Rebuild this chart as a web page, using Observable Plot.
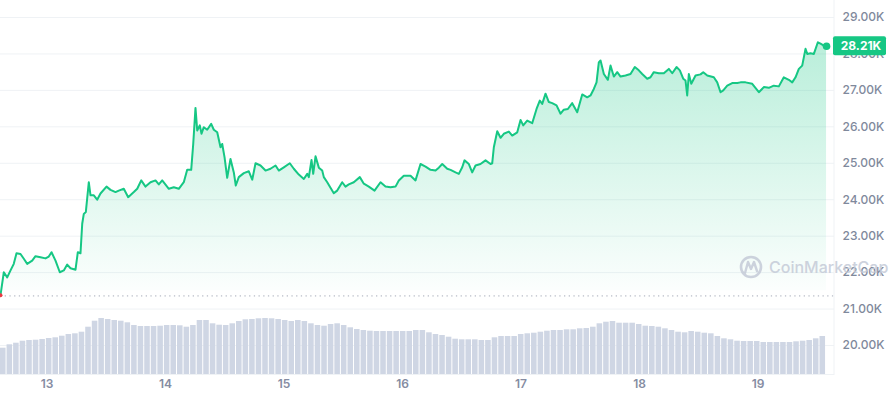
<!DOCTYPE html>
<html>
<head>
<meta charset="utf-8">
<script src="https://cdn.jsdelivr.net/npm/d3@7"></script>
<script src="https://cdn.jsdelivr.net/npm/@observablehq/plot@0.6"></script>
<style>
  html, body { margin: 0; padding: 0; background: #fff; }
  #chart { position: relative; width: 889px; height: 400px; font-family: Inter, "Noto Sans", sans-serif; }
  #chart svg { position: absolute; left: 0; top: 0; }
</style>
</head>
<body>
<div id="chart"></div>
<script>
// ---- Data (BTC price, 7 days, in thousands USD) ----
const startISO = "2023-03-12T14:35:00Z";
const hours = [0.0,0.67,1.36,2.03,2.69,3.24,4.05,4.72,5.41,6.42,7.09,8.10,9.11,9.78,10.33,11.14,12.01,12.82,13.51,14.18,15.19,15.66,16.20,16.55,16.87,17.28,17.88,18.23,18.90,19.58,20.25,21.47,22.28,23.29,23.96,24.97,25.86,27.00,27.69,28.50,29.37,30.38,31.39,32.06,32.75,34.09,35.10,36.11,37.12,37.81,38.62,39.03,39.49,39.84,40.36,40.71,41.17,41.86,42.67,43.20,43.89,44.56,44.90,45.37,45.91,46.58,47.25,47.65,48.26,49.28,50.29,50.98,51.65,52.66,53.67,54.68,55.70,56.36,57.38,58.59,59.40,60.41,61.43,62.12,62.44,62.99,63.33,63.80,64.47,65.15,65.48,66.17,66.83,67.50,68.19,69.20,69.87,70.54,71.55,72.77,73.58,74.59,75.75,76.96,77.97,78.99,80.00,80.67,81.68,83.04,84.05,85.06,86.08,87.09,88.10,88.77,89.46,90.47,91.14,92.15,92.82,93.51,93.97,94.85,95.53,96.20,97.21,98.23,99.24,99.58,99.91,100.60,101.27,101.93,102.95,103.63,104.65,105.32,105.86,106.67,107.68,108.56,109.22,109.71,110.38,111.05,111.73,112.61,113.42,114.08,114.90,115.78,116.80,117.81,118.82,119.49,120.16,120.71,121.17,121.52,122.19,123.00,123.54,124.21,124.90,125.57,126.58,127.59,128.46,129.27,129.96,130.97,131.64,132.31,133.33,134.34,135.35,136.04,136.91,137.58,138.26,138.73,139.07,139.40,139.89,140.76,141.77,142.32,143.13,144.46,145.15,145.82,146.37,147.18,148.19,149.20,149.87,150.88,152.24,153.58,154.59,155.60,156.61,157.63,158.64,159.65,160.34,161.01,161.68,162.36,163.03,163.38,164.05,164.72,165.53,166.07,166.74,167.29];
const prices = [21.38,22.01,21.87,22.06,22.24,22.53,22.51,22.38,22.24,22.33,22.45,22.42,22.39,22.44,22.56,22.33,22.01,22.06,22.22,22.12,22.08,22.56,22.53,23.34,23.61,23.66,24.48,24.12,24.12,24.00,24.17,24.36,24.27,24.21,24.25,24.30,24.07,24.21,24.30,24.53,24.36,24.48,24.53,24.42,24.53,24.30,24.34,24.30,24.48,24.82,24.82,25.53,26.52,25.90,26.04,25.81,25.99,25.92,26.08,25.92,25.85,25.44,25.53,25.17,24.60,25.12,24.75,24.39,24.62,24.73,24.78,24.55,25.00,24.94,24.80,24.85,24.94,24.80,24.89,25.00,24.85,24.69,24.57,24.71,24.62,25.09,24.71,25.19,24.88,24.80,24.62,24.48,24.33,24.18,24.25,24.48,24.36,24.42,24.48,24.62,24.44,24.36,24.25,24.48,24.36,24.34,24.36,24.53,24.66,24.66,24.53,24.98,24.91,24.82,24.80,24.88,24.98,24.85,24.82,24.75,24.71,24.89,25.08,24.98,24.75,24.94,24.98,25.08,24.98,25.00,25.44,25.88,25.70,25.81,25.87,25.76,25.85,26.19,26.04,26.17,26.10,26.49,26.72,26.63,26.91,26.68,26.65,26.59,26.36,26.47,26.49,26.65,26.40,26.89,26.81,26.86,27.04,27.22,27.77,27.82,27.45,27.29,27.68,27.38,27.50,27.38,27.41,27.45,27.64,27.55,27.45,27.32,27.36,27.50,27.47,27.47,27.59,27.47,27.64,27.55,27.32,27.27,26.86,27.45,27.18,27.41,27.44,27.50,27.41,27.36,27.22,26.95,27.00,27.13,27.20,27.20,27.22,27.22,27.18,26.95,27.09,27.07,27.13,27.11,27.36,27.29,27.22,27.36,27.59,27.68,28.14,28.00,28.02,28.00,28.32,28.28,28.23,28.21];
const openPrice = 21.36;
// 24h volume (relative units), evenly spaced bars over the period
const volumes = [26.3,29.7,31.3,33.3,34,34.3,35,36,36.7,38.3,40,40.7,42.3,47.3,53.3,56,55,54,53.3,51.7,49,48,48,48,48.3,49,49,48.7,47.3,49,54,54,50.7,49.3,49,50.7,53,54.7,55,55.7,56,55.7,55,
54,53,54,53,50.7,49,48.3,50,50.7,49,46.7,45,44,43.3,43,43,43,43,43,43,44,44,41.7,40,39,37.3,35.3,34.7,34.7,34.7,34,34,36.7,38,38,38,40,40.7,41.3,42.3,43.3,44,
44,44.7,44.7,45.7,46,47.3,50.7,52.3,53,51.3,51.3,51.3,50,48.3,48,47.3,45.7,44,42.3,41.7,43,42.3,41.3,40.7,38,35.7,34.7,33.3,33,33,33,32,32,32,32,32,32.7,33.3,34,35.7,38];
const dayTicks = ["2023-03-13","2023-03-14","2023-03-15","2023-03-16","2023-03-17","2023-03-18","2023-03-19"];
const yTicks = [20,21,22,23,24,25,26,27,28,29];

// ---- Build tables ----
const HOUR = 3600e3;
const t0 = new Date(startISO).getTime();
const priceData = hours.map((h, i) => ({date: new Date(t0 + h * HOUR), price: prices[i]}));
const lastH = hours[hours.length - 1];
const dt = lastH / volumes.length;
const volData = volumes.map((v, i) => ({x1: new Date(t0 + i * dt * HOUR), x2: new Date(t0 + (i + 1) * dt * HOUR), v}));
const xDomain = [new Date(t0), new Date(t0 + 168.9 * HOUR)];
const last = priceData[priceData.length - 1];

const GREEN = "#16c784";
const GRID = "#eff2f5";

// ---- Price chart ----
const priceChart = Plot.plot({
  width: 889, height: 400,
  marginLeft: 0, marginRight: 55, marginTop: 17, marginBottom: 55,
  style: {fontFamily: "Inter, 'Noto Sans', sans-serif", fontSize: "12px", background: "white", overflow: "visible"},
  x: {type: "utc", domain: xDomain, axis: null},
  y: {domain: [20, 29], axis: null},
  marks: [
    Plot.ruleY(yTicks, {y: d => d, stroke: GRID, strokeWidth: 1}),
    Plot.areaY(priceData, {x: "date", y1: 21.5, y2: "price", fill: "url(#priceGrad)"}),
    Plot.ruleY([openPrice], {y: d => d, stroke: "#a6abb8", strokeWidth: 1, strokeDasharray: "1.3 3.4"}),
    Plot.lineY(priceData, {x: "date", y: "price", stroke: GREEN, strokeWidth: 2, strokeLinejoin: "round"}),
    Plot.dot([priceData[0]], {x: "date", y: "price", r: 2, fill: "#ea3943"}),
    Plot.dot([last], {x: "date", y: "price", r: 3.8, fill: GREEN}),
    Plot.text(yTicks, {y: d => d, frameAnchor: "right", dx: 8, textAnchor: "start", text: d => d.toFixed(2) + "K", fill: "#7f899c", fontWeight: 500, fontSize: 12})
  ]
});

// gradient defs
const psvg = d3.select(priceChart);
const grad = psvg.insert("defs", ":first-child").append("linearGradient")
  .attr("id", "priceGrad").attr("x1", 0).attr("y1", 0).attr("x2", 0).attr("y2", 1);
grad.append("stop").attr("offset", "0%").attr("stop-color", GREEN).attr("stop-opacity", 0.3);
grad.append("stop").attr("offset", "100%").attr("stop-color", GREEN).attr("stop-opacity", 0.01);

const xs = priceChart.scale("x");
const ys = priceChart.scale("y");
// right border line
const xr = xs.apply(xDomain[1]);
psvg.append("line").attr("x1", xr).attr("x2", xr).attr("y1", 0).attr("y2", 375)
  .attr("stroke", GRID).attr("stroke-width", 1);

// watermark
const wm = psvg.append("g").attr("opacity", 0.85);
wm.append("circle").attr("cx", 751).attr("cy", 267).attr("r", 10)
  .attr("fill", "none").attr("stroke", "#c5cbd8").attr("stroke-width", 2.6);
wm.append("path").attr("d", "M745,273 L748,262 L751,269 L754,262 L757,271")
  .attr("fill", "none").attr("stroke", "#c5cbd8").attr("stroke-width", 2.4).attr("stroke-linejoin", "round").attr("stroke-linecap", "round");
wm.append("text").attr("x", 769).attr("y", 273).attr("text-anchor", "start").attr("fill", "#c5cbd8")
  .attr("font-size", 16).attr("font-weight", 500).text("CoinMarketCap");

// current price badge
const yl = ys.apply(last.price);
psvg.append("rect").attr("x", xr - 1).attr("y", yl - 9.5).attr("width", 53).attr("height", 19)
  .attr("rx", 2).attr("fill", GREEN);
psvg.append("text").attr("x", xr + 27).attr("y", yl).attr("dy", "0.35em").attr("text-anchor", "middle")
  .attr("fill", "white").attr("font-weight", 700).attr("font-size", 12)
  .text(last.price.toFixed(2) + "K");

// ---- Volume chart (overlay) ----
const volChart = Plot.plot({
  width: 889, height: 400,
  marginLeft: 0, marginRight: 55, marginTop: 314, marginBottom: 26,
  style: {fontFamily: "Inter, 'Noto Sans', sans-serif", fontSize: "12px", background: "transparent", overflow: "visible"},
  x: {type: "utc", domain: xDomain, axis: null},
  y: {domain: [0, 60], axis: null},
  marks: [
    Plot.rectY(volData, {x1: "x1", x2: "x2", y: "v", fill: "#cfd6e4", insetRight: 1}),
    Plot.ruleY([0], {stroke: GRID}),
    Plot.text(dayTicks, {x: d => new Date(d + "T00:00:00Z"), frameAnchor: "bottom", dy: 13, text: d => String(new Date(d + "T00:00:00Z").getUTCDate()), fill: "#858ca2", fontWeight: 600, fontSize: 12})
  ]
});

const root = document.getElementById("chart");
root.appendChild(priceChart);
root.appendChild(volChart);
</script>
</body>
</html>
